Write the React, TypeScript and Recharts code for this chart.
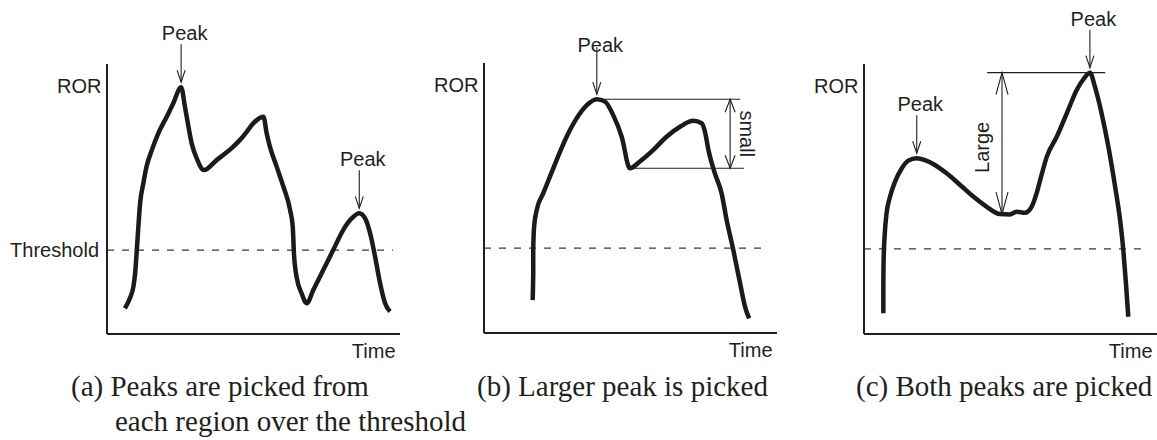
import React from 'react';
import { LineChart, Line, XAxis, YAxis, ReferenceLine, ReferenceDot } from 'recharts';

const INK = '#231f20';
const CURVE = '#1c1a1b';
const SANS = '"Liberation Sans", Arial, sans-serif';
const SERIF = '"Liberation Serif", "Times New Roman", serif';

// (a) two regions above the threshold, one peak picked in each
const timeA = [6.1, 7.8, 9.0, 9.6, 10.1, 10.7, 11.3, 12.4, 13.5, 15.3, 17.5, 20.4, 22.6, 25.3, 26.6, 27.8, 28.9, 30.6, 33.1, 37.4, 43.1, 45.4, 47.7, 49.9, 53.4, 54.5, 55.6, 57.9, 60.2, 62.5, 63.4, 63.8, 64.7, 66.4, 68.2, 70.4, 73.8, 77.2, 80.6, 83.5, 86.1, 88.1, 89.8, 91.5, 93.2, 94.9, 96.6];
const rorA = [9.5, 13.2, 17.5, 22.5, 29.9, 39.7, 48.4, 55.8, 62.0, 68.1, 74.3, 80.5, 85.4, 91.4, 84.2, 76.8, 70.6, 65.1, 60.7, 64.4, 69.4, 71.9, 74.9, 78.0, 80.5, 74.3, 69.4, 62.0, 54.6, 45.9, 39.7, 29.9, 21.2, 15.1, 11.4, 16.3, 23.7, 31.1, 38.5, 42.8, 44.7, 42.8, 37.3, 28.6, 18.8, 11.4, 8.3];
const peaksA = [13, 40];
const thresholdA = 31.1;
const thresholdEndA = 97.6;

// (b) one region, the dip between the two humps is small
const timeB = [16.6, 16.8, 16.8, 17.1, 18.0, 20.2, 22.5, 24.8, 28.2, 31.6, 35.1, 38.5, 41.3, 44.1, 47.0, 49.8, 53.2, 57.8, 62.3, 66.9, 71.4, 74.3, 75.4, 76.6, 78.8, 81.1, 82.8, 85.1, 87.4, 89.1, 90.5];
const rorB = [12.2, 22.1, 30.7, 39.4, 45.6, 51.7, 57.9, 64.1, 72.7, 79.5, 84.4, 86.6, 85.7, 80.7, 72.7, 61.0, 63.5, 67.8, 72.7, 76.4, 78.6, 77.7, 74.6, 67.8, 59.1, 51.7, 41.9, 30.7, 18.4, 9.7, 5.4];
const peakB = 11;
const troughB = 15;
const thresholdB = 31.4;
const thresholdEndB = 96.9;
const upperGuideEndB = 87.4;
const lowerGuideEndB = 88.7;
const spanTimeB = 84.0;

// (c) one region, the dip between the two humps is large
const timeC = [6.6, 6.6, 6.7, 7.1, 7.7, 8.9, 10.6, 12.9, 15.1, 18.0, 20.8, 24.2, 28.2, 32.8, 37.3, 41.9, 46.4, 49.8, 52.1, 54.9, 57.2, 58.9, 60.6, 62.4, 65.8, 69.2, 72.6, 75.1, 77.1, 78.8, 81.1, 83.4, 85.7, 87.4, 88.5, 89.4, 90.2];
const rorC = [7.7, 17.5, 27.4, 37.3, 44.7, 50.9, 56.4, 61.4, 64.2, 65.1, 64.4, 62.6, 59.5, 55.2, 50.9, 47.1, 44.4, 44.3, 45.3, 44.9, 47.1, 52.1, 58.9, 65.7, 73.1, 81.7, 90.4, 94.7, 96.8, 91.6, 81.7, 69.4, 54.6, 42.2, 31.1, 18.8, 6.4];
const peaksC = [9, 28];
const troughC = 16;
const thresholdC = 31.5;
const thresholdEndC = 96.9;
const guideStartC = 42.0;
const guideEndC = 82.3;
const spanTimeC = 47.1;

const captionA = ['(a) Peaks are picked from', 'each region over the threshold'];
const captionB = '(b) Larger peak is picked';
const captionC = '(c) Both peaks are picked';

const toRows = (time: number[], ror: number[]) => time.map((t, i) => ({ t, ror: ror[i] }));
const dataA = toRows(timeA, rorA);
const dataB = toRows(timeB, rorB);
const dataC = toRows(timeC, rorC);

const textStyle = { fontFamily: SANS, fontSize: 20, fill: INK };

const rorLabel = (props: any) => {
  const vb = props.viewBox ?? { x: 0, y: 0, width: 0, height: 0 };
  return (
    <text x={vb.x + vb.width - 5.5} y={vb.y + 29} textAnchor="end" {...textStyle}>
      ROR
    </text>
  );
};

const timeLabel = (props: any) => {
  const vb = props.viewBox ?? { x: 0, y: 0, width: 0, height: 0 };
  return (
    <text x={vb.x + vb.width - 4.5} y={vb.y + 24} textAnchor="end" {...textStyle}>
      Time
    </text>
  );
};

// downward arrow with "Peak" above it, tip just over the curve
const peakArrow = (shaft = 38) => (props: any) => {
  const { cx, cy } = props;
  const tip = cy - 5;
  return (
    <g>
      <line x1={cx} y1={tip - shaft} x2={cx} y2={tip} stroke={INK} strokeWidth={1.1} />
      <polyline
        points={`${cx - 4},${tip - 12} ${cx},${tip} ${cx + 4},${tip - 12}`}
        fill="none"
        stroke={INK}
        strokeWidth={1.1}
      />
      <text x={cx + 3.5} y={tip - 42} textAnchor="middle" {...textStyle}>
        Peak
      </text>
    </g>
  );
};

// vertical double-headed arrow with a rotated caption beside it
const spanArrow = (caption: string, side: 'left' | 'right', headW: number, headH: number) => (props: any) => {
  const { x1, y1, y2 } = props;
  const top = Math.min(y1, y2);
  const bottom = Math.max(y1, y2);
  const mid = (top + bottom) / 2;
  const tx = side === 'right' ? x1 + 10 : x1 - 13;
  const ty = side === 'right' ? mid : mid + 4;
  return (
    <g>
      <line x1={x1} y1={top} x2={x1} y2={bottom} stroke={INK} strokeWidth={1.1} />
      <polyline
        points={`${x1 - headW},${top + headH} ${x1},${top} ${x1 + headW},${top + headH}`}
        fill="none"
        stroke={INK}
        strokeWidth={1.1}
      />
      <polyline
        points={`${x1 - headW},${bottom - headH} ${x1},${bottom} ${x1 + headW},${bottom - headH}`}
        fill="none"
        stroke={INK}
        strokeWidth={1.1}
      />
      <text
        x={tx}
        y={ty}
        textAnchor="middle"
        transform={`rotate(${side === 'right' ? 90 : -90} ${tx} ${ty})`}
        {...textStyle}
      >
        {caption}
      </text>
    </g>
  );
};

const axisLine = { stroke: INK, strokeWidth: 2 };
const dashed = { stroke: '#3a3a3a', strokeWidth: 1.2, strokeDasharray: '7 8' };

const captionStyle: React.CSSProperties = {
  position: 'absolute',
  fontFamily: SERIF,
  fontSize: 29,
  lineHeight: '29px',
  color: INK,
  whiteSpace: 'nowrap',
};

export default function App() {
  return (
    <div style={{ position: 'absolute', left: 0, top: 0, width: 1157, height: 440, background: '#fff' }}>
      <div style={{ position: 'absolute', left: 0, top: 0 }}>
        <LineChart width={400} height={440} data={dataA} margin={{ top: 64, right: 0, bottom: 105, left: 106 }}>
          <XAxis type="number" dataKey="t" domain={[0, 100]} tick={false} tickLine={false} height={1} axisLine={axisLine} label={timeLabel} />
          <YAxis type="number" domain={[0, 100]} tick={false} tickLine={false} width={1} axisLine={axisLine} label={rorLabel} />
          <ReferenceLine
            segment={[{ x: 0, y: thresholdA }, { x: thresholdEndA, y: thresholdA }]}
            {...dashed}
            label={{ value: 'Threshold', position: 'left', offset: 8, ...textStyle }}
          />
          <Line dataKey="ror" type="monotoneX" stroke={CURVE} strokeWidth={4.5} strokeLinejoin="round" dot={false} isAnimationActive={false} />
          {peaksA.map((i) => (
            <ReferenceDot key={i} x={timeA[i]} y={rorA[i]} shape={peakArrow()} />
          ))}
        </LineChart>
      </div>

      <div style={{ position: 'absolute', left: 400, top: 0 }}>
        <LineChart width={380} height={440} data={dataB} margin={{ top: 63, right: 3, bottom: 106, left: 83 }}>
          <XAxis type="number" dataKey="t" domain={[0, 100]} tick={false} tickLine={false} height={1} axisLine={axisLine} label={timeLabel} />
          <YAxis type="number" domain={[0, 100]} tick={false} tickLine={false} width={1} axisLine={axisLine} label={rorLabel} />
          <ReferenceLine segment={[{ x: 0, y: thresholdB }, { x: thresholdEndB, y: thresholdB }]} {...dashed} />
          <ReferenceLine
            segment={[{ x: timeB[peakB], y: rorB[peakB] }, { x: upperGuideEndB, y: rorB[peakB] }]}
            stroke={INK}
            strokeWidth={1.1}
          />
          <ReferenceLine
            segment={[{ x: timeB[troughB], y: rorB[troughB] }, { x: lowerGuideEndB, y: rorB[troughB] }]}
            stroke={INK}
            strokeWidth={1.1}
          />
          <ReferenceLine
            segment={[{ x: spanTimeB, y: rorB[peakB] }, { x: spanTimeB, y: rorB[troughB] }]}
            shape={spanArrow('small', 'right', 5, 13)}
          />
          <Line dataKey="ror" type="monotoneX" stroke={CURVE} strokeWidth={4.5} strokeLinejoin="round" dot={false} isAnimationActive={false} />
          <ReferenceDot x={timeB[peakB]} y={rorB[peakB]} shape={peakArrow(47)} />
        </LineChart>
      </div>

      <div style={{ position: 'absolute', left: 780, top: 0 }}>
        <LineChart width={377} height={440} data={dataC} margin={{ top: 64, right: 0, bottom: 105, left: 83 }}>
          <XAxis type="number" dataKey="t" domain={[0, 100]} tick={false} tickLine={false} height={1} axisLine={axisLine} label={timeLabel} />
          <YAxis type="number" domain={[0, 100]} tick={false} tickLine={false} width={1} axisLine={axisLine} label={rorLabel} />
          <ReferenceLine segment={[{ x: 0, y: thresholdC }, { x: thresholdEndC, y: thresholdC }]} {...dashed} />
          <ReferenceLine
            segment={[{ x: guideStartC, y: rorC[peaksC[1]] }, { x: guideEndC, y: rorC[peaksC[1]] }]}
            stroke={INK}
            strokeWidth={1.1}
          />
          <ReferenceLine
            segment={[{ x: spanTimeC, y: rorC[peaksC[1]] }, { x: spanTimeC, y: rorC[troughC] }]}
            shape={spanArrow('Large', 'left', 6, 22)}
          />
          <Line dataKey="ror" type="monotoneX" stroke={CURVE} strokeWidth={4.5} strokeLinejoin="round" dot={false} isAnimationActive={false} />
          {peaksC.map((i) => (
            <ReferenceDot key={i} x={timeC[i]} y={rorC[i]} shape={peakArrow()} />
          ))}
        </LineChart>
      </div>

      <div style={{ ...captionStyle, left: 71, top: 372 }}>{captionA[0]}</div>
      <div style={{ ...captionStyle, left: 115, top: 407 }}>{captionA[1]}</div>
      <div style={{ ...captionStyle, left: 477, top: 372 }}>{captionB}</div>
      <div style={{ ...captionStyle, left: 856, top: 372 }}>{captionC}</div>
    </div>
  );
}
